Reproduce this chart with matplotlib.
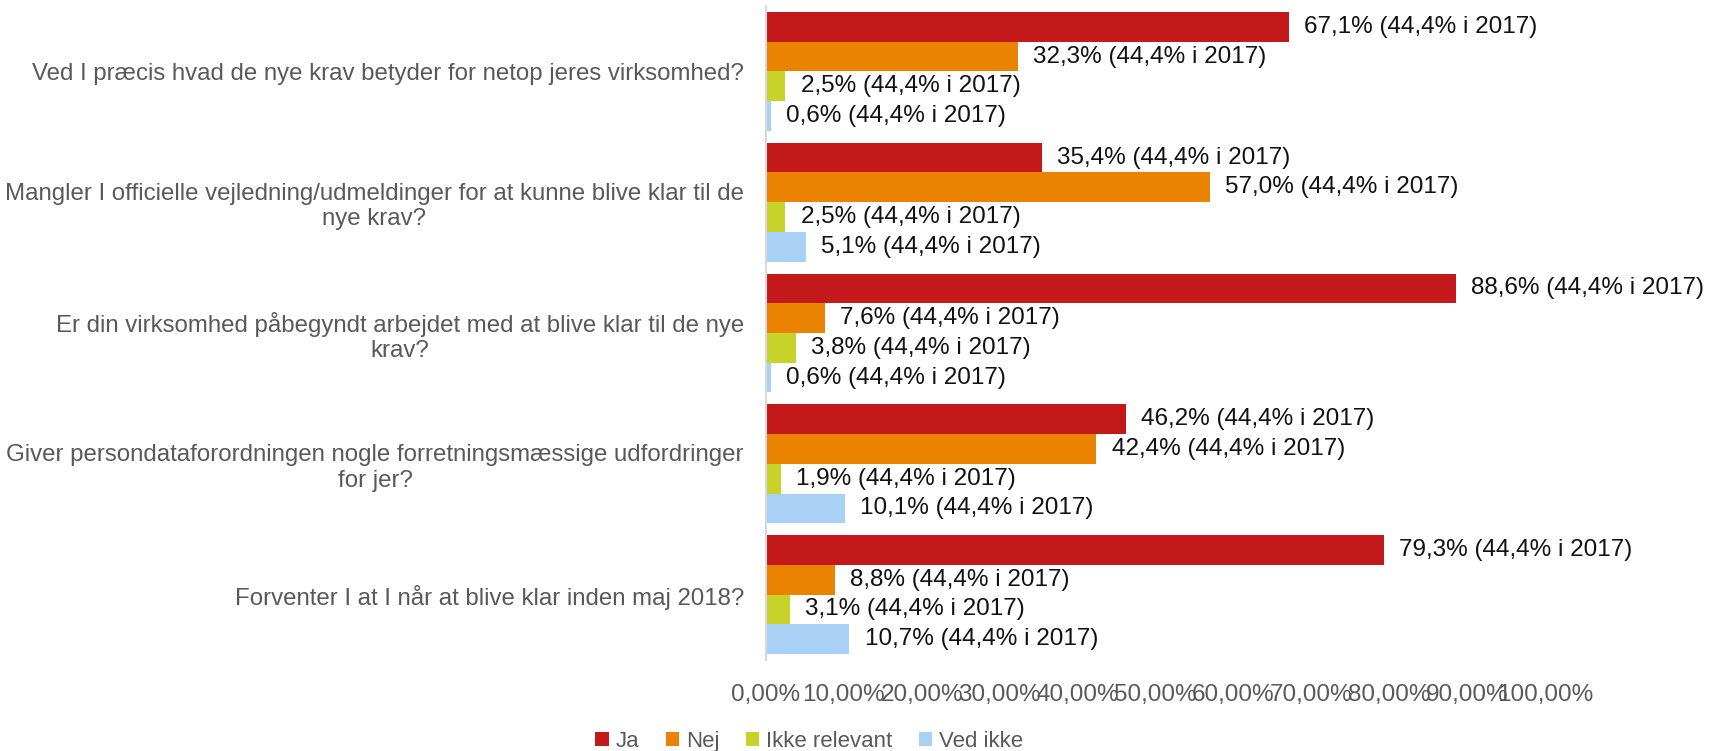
import matplotlib.pyplot as plt
import numpy as np

plt.rcParams['font.family'] = ['Liberation Sans', 'DejaVu Sans']

questions = [
    "Ved I præcis hvad de nye krav betyder for netop jeres virksomhed?",
    "Mangler I officielle vejledning/udmeldinger for at kunne blive klar til de\nnye krav?",
    "Er din virksomhed påbegyndt arbejdet med at blive klar til de nye\nkrav?",
    "Giver persondataforordningen nogle forretningsmæssige udfordringer\nfor jer?",
    "Forventer I at I når at blive klar inden maj 2018?",
]
series = ["Ja", "Nej", "Ikke relevant", "Ved ikke"]
ja = [67.1, 35.4, 88.6, 46.2, 79.3]
nej = [32.3, 57.0, 7.6, 42.4, 8.8]
ikke_relevant = [2.5, 2.5, 3.8, 1.9, 3.1]
ved_ikke = [0.6, 5.1, 0.6, 10.1, 10.7]
prev_2017 = [44.4, 44.4, 44.4, 44.4, 44.4]
xticks = [0, 10, 20, 30, 40, 50, 60, 70, 80, 90, 100]

colors = ['#C3191B', '#E98300', '#C8D32A', '#A9D0F5']
values = [ja, nej, ikke_relevant, ved_ikke]

fig = plt.figure(figsize=(17.12, 7.51), dpi=100)
ax = fig.add_axes([766/1712, 1 - 660/751, (1545 - 766)/1712, (660 - 6)/751])

n = len(questions)
group_w = 4 / 4.4
h = group_w / 4
y = np.arange(n)

for j, (name, vals) in enumerate(zip(series, values)):
    pos = y - group_w/2 + h*(j + 0.5)
    bars = ax.barh(pos, vals, height=h, color=colors[j], label=name)
    for b, v, p in zip(bars, vals, prev_2017):
        txt = f"{v:.1f}% ({p:.1f}% i 2017)".replace('.', ',')
        ax.annotate(txt, (b.get_width(), b.get_y() + b.get_height()/2),
                    xytext=(11, 0), textcoords='offset points',
                    va='center', ha='left', fontsize=17.5, color='#111111')

ax.set_ylim(n - 0.5, -0.5)
ax.set_xlim(0, 100)
ax.set_yticks(y)
ax.set_yticklabels(questions, fontsize=17.3, color='#595959', multialignment='center')
ax.set_xticks(xticks)
ax.set_xticklabels([f"{t:.2f}%".replace('.', ',') for t in xticks], fontsize=17.5, color='#595959')
ax.tick_params(axis='both', length=0)
ax.tick_params(axis='y', pad=16)
ax.tick_params(axis='x', pad=17)
for s in ['top', 'right', 'bottom']:
    ax.spines[s].set_visible(False)
ax.spines['left'].set_color('#D9D9D9')
ax.spines['left'].set_linewidth(1.5)

fig.legend(loc='center', bbox_to_anchor=(0.4726, 0.013), ncol=4, frameon=False,
           fontsize=16, labelcolor='#595959', handlelength=0.6, handleheight=0.6,
           handletextpad=0.3, columnspacing=1.2)

fig.savefig('out.png', dpi=100)
